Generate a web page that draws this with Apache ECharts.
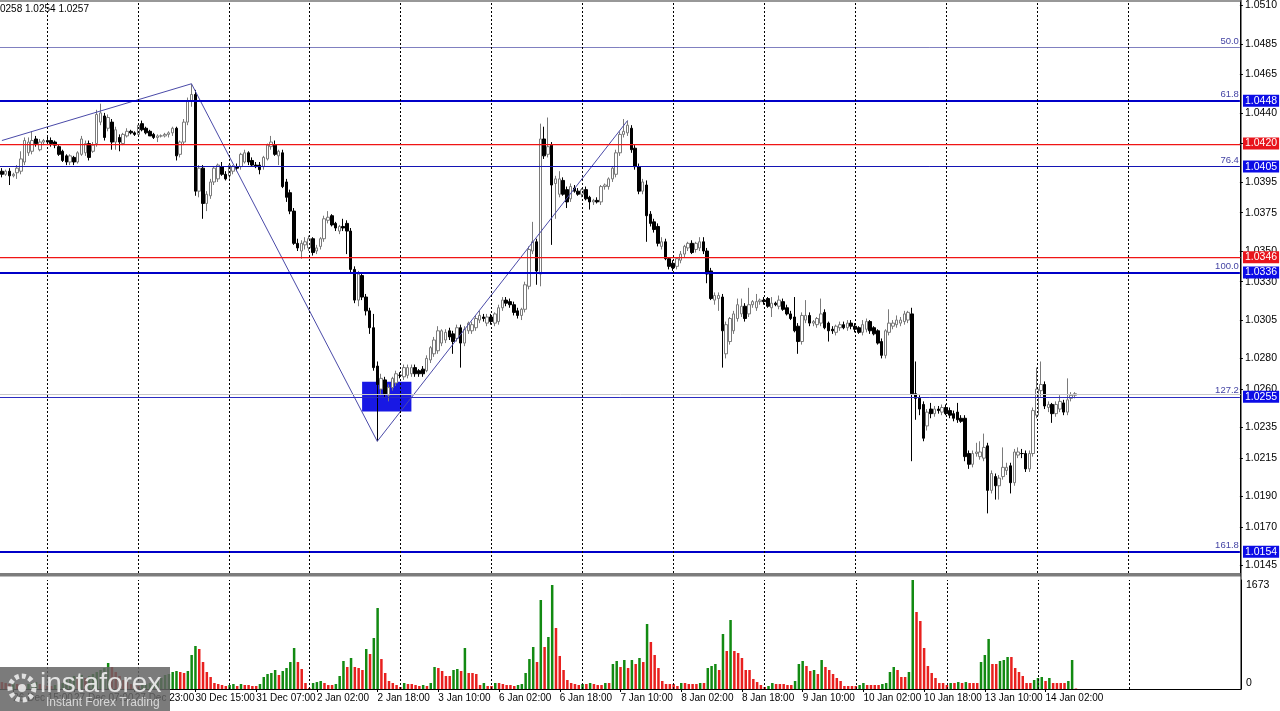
<!DOCTYPE html>
<html><head><meta charset="utf-8">
<script src="https://cdn.jsdelivr.net/npm/echarts@6/dist/echarts.min.js"></script>
<style>html,body{margin:0;padding:0;background:#fff}#c{width:1280px;height:711px}</style>
</head><body><div id="c"></div>
<script>
// ---- data ----
const sessions = [
  ['26 Dec',12,23],['27 Dec',0,23],['30 Dec',0,23],['31 Dec',0,20],['2 Jan',0,23],['3 Jan',0,23],
  ['6 Jan',0,23],['7 Jan',0,23],['8 Jan',0,23],['9 Jan',0,23],['10 Jan',0,23],['13 Jan',0,23],['14 Jan',0,10]
];
const futureBars = 43;
// [open, high, low, close]
const ohlc = [
// 26 Dec
[1.0402,1.0404,1.0398,1.0400],[1.0400,1.0403,1.0399,1.0402],[1.0402,1.0404,1.0393,1.0399],[1.0399,1.0401,1.0398,1.0400],
[1.0401,1.0406,1.0397,1.0404],[1.0402,1.0415,1.0400,1.0410],[1.0408,1.0424,1.0406,1.0422],[1.0414,1.0424,1.0412,1.0421],
[1.0415,1.0428,1.0413,1.0422],[1.0423,1.0425,1.0418,1.0420],[1.0416,1.0423,1.0415,1.0421],[1.0421,1.0423,1.0419,1.0422],
// 27 Dec
[1.0422,1.0425,1.0419,1.0421],[1.0422,1.0424,1.0418,1.0420],[1.0421,1.0422,1.0417,1.0419],[1.0418,1.0419,1.0412,1.0413],
[1.0415,1.0416,1.0408,1.0409],[1.0412,1.0413,1.0406,1.0408],[1.0408,1.0413,1.0406,1.0412],[1.0411,1.0412,1.0406,1.0408],
[1.0408,1.0415,1.0407,1.0414],[1.0413,1.0425,1.0412,1.0423],[1.0414,1.0422,1.0412,1.0420],[1.0420,1.0422,1.0409,1.0411],
[1.0415,1.0421,1.0414,1.0419],[1.0420,1.0442,1.0418,1.0439],[1.0434,1.0446,1.0432,1.0440],[1.0438,1.0440,1.0422,1.0424],
[1.0430,1.0439,1.0428,1.0437],[1.0434,1.0436,1.0416,1.0421],[1.0421,1.0431,1.0416,1.0429],[1.0424,1.0426,1.0415,1.0421],
[1.0420,1.0427,1.0419,1.0426],[1.0425,1.0430,1.0424,1.0428],[1.0428,1.0429,1.0426,1.0427],[1.0427,1.0428,1.0425,1.0426],
// 30 Dec
[1.0426,1.0433,1.0425,1.0432],[1.0433,1.0435,1.0428,1.0429],[1.0430,1.0431,1.0426,1.0427],[1.0428,1.0429,1.0425,1.0425],
[1.0426,1.0427,1.0423,1.0424],[1.0424,1.0426,1.0421,1.0425],[1.0425,1.0426,1.0424,1.0425],[1.0425,1.0427,1.0424,1.0426],
[1.0426,1.0428,1.0424,1.0427],[1.0427,1.0431,1.0425,1.0430],[1.0430,1.0431,1.0409,1.0412],[1.0413,1.0422,1.0411,1.0421],
[1.0421,1.0436,1.0419,1.0434],[1.0434,1.0450,1.0432,1.0448],[1.0448,1.0459,1.0444,1.0452],[1.0452,1.0455,1.0386,1.0389],
[1.0389,1.0406,1.0385,1.0404],[1.0404,1.0406,1.0371,1.0381],[1.0381,1.0389,1.0376,1.0387],[1.0386,1.0397,1.0384,1.0395],
[1.0395,1.0405,1.0393,1.0404],[1.0397,1.0407,1.0395,1.0406],[1.0405,1.0408,1.0399,1.0400],[1.0400,1.0402,1.0396,1.0397],
// 31 Dec
[1.0399,1.0407,1.0397,1.0406],[1.0402,1.0406,1.0400,1.0405],[1.0405,1.0407,1.0402,1.0404],[1.0405,1.0414,1.0403,1.0413],
[1.0408,1.0416,1.0407,1.0414],[1.0414,1.0415,1.0406,1.0408],[1.0409,1.0411,1.0405,1.0406],[1.0406,1.0408,1.0404,1.0405],
[1.0406,1.0408,1.0400,1.0403],[1.0405,1.0412,1.0403,1.0411],[1.0410,1.0420,1.0409,1.0419],[1.0418,1.0425,1.0416,1.0421],
[1.0419,1.0422,1.0412,1.0413],[1.0412,1.0416,1.0406,1.0415],[1.0414,1.0416,1.0391,1.0392],[1.0395,1.0397,1.0382,1.0385],
[1.0388,1.0390,1.0374,1.0376],[1.0376,1.0378,1.0354,1.0355],[1.0355,1.0358,1.0350,1.0352],[1.0350,1.0357,1.0345,1.0355],
[1.0354,1.0359,1.0351,1.0356],
// 2 Jan
[1.0352,1.0360,1.0350,1.0358],[1.0358,1.0359,1.0347,1.0349],[1.0350,1.0354,1.0348,1.0352],[1.0353,1.0359,1.0351,1.0358],
[1.0358,1.0373,1.0356,1.0371],[1.0370,1.0376,1.0368,1.0372],[1.0373,1.0374,1.0366,1.0367],[1.0368,1.0369,1.0363,1.0365],
[1.0363,1.0367,1.0361,1.0366],[1.0366,1.0371,1.0363,1.0365],[1.0368,1.0370,1.0348,1.0363],[1.0363,1.0365,1.0336,1.0338],
[1.0338,1.0340,1.0316,1.0318],[1.0318,1.0337,1.0314,1.0335],[1.0334,1.0336,1.0318,1.0320],[1.0320,1.0322,1.0308,1.0311],
[1.0311,1.0313,1.0296,1.0300],[1.0300,1.0309,1.0272,1.0274],[1.0275,1.0278,1.0226,1.0263],[1.0260,1.0270,1.0256,1.0267],
[1.0266,1.0268,1.0255,1.0257],[1.0256,1.0263,1.0252,1.0261],[1.0261,1.0268,1.0259,1.0267],[1.0264,1.0272,1.0262,1.0270],
// 3 Jan
[1.0269,1.0271,1.0267,1.0269],[1.0268,1.0276,1.0266,1.0274],[1.0269,1.0276,1.0267,1.0274],[1.0270,1.0276,1.0268,1.0274],
[1.0274,1.0276,1.0268,1.0270],[1.0272,1.0273,1.0268,1.0270],[1.0273,1.0275,1.0268,1.0270],[1.0272,1.0282,1.0271,1.0280],
[1.0279,1.0288,1.0277,1.0287],[1.0283,1.0294,1.0281,1.0292],[1.0285,1.0301,1.0283,1.0298],[1.0290,1.0299,1.0288,1.0298],
[1.0292,1.0299,1.0290,1.0297],[1.0298,1.0300,1.0292,1.0294],[1.0296,1.0298,1.0283,1.0291],[1.0293,1.0302,1.0291,1.0300],
[1.0300,1.0302,1.0274,1.0290],[1.0290,1.0301,1.0288,1.0299],[1.0298,1.0304,1.0296,1.0303],[1.0298,1.0304,1.0296,1.0302],
[1.0300,1.0308,1.0298,1.0306],[1.0305,1.0311,1.0303,1.0308],[1.0307,1.0309,1.0304,1.0306],[1.0303,1.0309,1.0301,1.0307],
// 6 Jan
[1.0307,1.0309,1.0302,1.0304],[1.0303,1.0310,1.0301,1.0309],[1.0304,1.0315,1.0302,1.0313],[1.0313,1.0320,1.0311,1.0318],
[1.0318,1.0320,1.0314,1.0316],[1.0317,1.0319,1.0313,1.0315],[1.0315,1.0317,1.0308,1.0310],[1.0311,1.0313,1.0306,1.0308],
[1.0308,1.0313,1.0305,1.0312],[1.0312,1.0330,1.0310,1.0328],[1.0327,1.0353,1.0325,1.0351],[1.0350,1.0369,1.0348,1.0356],
[1.0356,1.0358,1.0328,1.0337],[1.0335,1.0433,1.0327,1.0423],[1.0423,1.0431,1.0410,1.0412],[1.0413,1.0437,1.0411,1.0418],
[1.0419,1.0421,1.0354,1.0393],[1.0394,1.0399,1.0371,1.0397],[1.0387,1.0402,1.0385,1.0397],[1.0396,1.0398,1.0386,1.0387],
[1.0390,1.0392,1.0378,1.0382],[1.0384,1.0394,1.0382,1.0392],[1.0391,1.0393,1.0388,1.0389],[1.0389,1.0391,1.0386,1.0387],
// 7 Jan
[1.0387,1.0391,1.0385,1.0390],[1.0390,1.0392,1.0383,1.0384],[1.0385,1.0386,1.0377,1.0382],[1.0382,1.0384,1.0380,1.0383],
[1.0383,1.0385,1.0381,1.0382],[1.0382,1.0393,1.0380,1.0392],[1.0392,1.0394,1.0390,1.0393],[1.0392,1.0398,1.0390,1.0397],
[1.0397,1.0405,1.0395,1.0404],[1.0400,1.0416,1.0398,1.0414],[1.0414,1.0428,1.0412,1.0426],[1.0426,1.0436,1.0424,1.0428],
[1.0427,1.0435,1.0425,1.0432],[1.0430,1.0432,1.0414,1.0416],[1.0417,1.0419,1.0403,1.0405],[1.0405,1.0407,1.0387,1.0389],
[1.0389,1.0397,1.0387,1.0395],[1.0393,1.0396,1.0356,1.0373],[1.0374,1.0376,1.0366,1.0368],[1.0369,1.0371,1.0362,1.0364],
[1.0366,1.0368,1.0353,1.0355],[1.0353,1.0359,1.0351,1.0356],[1.0356,1.0358,1.0344,1.0345],[1.0345,1.0346,1.0338,1.0340],
// 8 Jan
[1.0342,1.0344,1.0337,1.0339],[1.0340,1.0346,1.0338,1.0345],[1.0344,1.0350,1.0342,1.0348],[1.0348,1.0354,1.0346,1.0353],
[1.0352,1.0356,1.0350,1.0355],[1.0355,1.0357,1.0348,1.0349],[1.0351,1.0356,1.0349,1.0355],[1.0352,1.0359,1.0350,1.0356],
[1.0356,1.0359,1.0348,1.0350],[1.0350,1.0352,1.0329,1.0335],[1.0337,1.0339,1.0318,1.0319],[1.0318,1.0323,1.0315,1.0321],
[1.0319,1.0323,1.0311,1.0321],[1.0320,1.0322,1.0274,1.0298],[1.0283,1.0304,1.0280,1.0302],[1.0291,1.0307,1.0289,1.0306],
[1.0298,1.0311,1.0296,1.0309],[1.0306,1.0319,1.0304,1.0315],[1.0309,1.0319,1.0307,1.0314],[1.0314,1.0316,1.0304,1.0306],
[1.0309,1.0326,1.0307,1.0315],[1.0315,1.0318,1.0313,1.0317],[1.0313,1.0322,1.0311,1.0317],[1.0317,1.0319,1.0315,1.0318],
// 9 Jan
[1.0318,1.0320,1.0315,1.0317],[1.0319,1.0320,1.0313,1.0314],[1.0313,1.0320,1.0307,1.0316],[1.0316,1.0317,1.0314,1.0315],
[1.0314,1.0321,1.0312,1.0318],[1.0317,1.0319,1.0311,1.0312],[1.0313,1.0315,1.0308,1.0309],[1.0309,1.0311,1.0305,1.0306],
[1.0307,1.0320,1.0297,1.0298],[1.0301,1.0303,1.0283,1.0291],[1.0291,1.0310,1.0289,1.0308],[1.0305,1.0318,1.0303,1.0308],
[1.0308,1.0310,1.0301,1.0303],[1.0303,1.0305,1.0301,1.0304],[1.0302,1.0307,1.0300,1.0306],[1.0303,1.0319,1.0301,1.0309],
[1.0310,1.0312,1.0299,1.0300],[1.0303,1.0304,1.0291,1.0298],[1.0299,1.0301,1.0296,1.0298],[1.0297,1.0302,1.0295,1.0301],
[1.0300,1.0304,1.0298,1.0302],[1.0302,1.0304,1.0299,1.0300],[1.0300,1.0305,1.0298,1.0303],[1.0303,1.0305,1.0299,1.0301],
// 10 Jan
[1.0301,1.0303,1.0297,1.0299],[1.0300,1.0301,1.0296,1.0297],[1.0297,1.0305,1.0295,1.0302],[1.0299,1.0306,1.0297,1.0304],
[1.0304,1.0305,1.0296,1.0298],[1.0300,1.0301,1.0295,1.0296],[1.0298,1.0299,1.0289,1.0290],[1.0291,1.0293,1.0280,1.0282],
[1.0282,1.0299,1.0280,1.0298],[1.0297,1.0312,1.0295,1.0303],[1.0301,1.0305,1.0299,1.0303],[1.0302,1.0308,1.0300,1.0305],
[1.0303,1.0307,1.0301,1.0305],[1.0304,1.0311,1.0302,1.0309],[1.0305,1.0311,1.0303,1.0310],[1.0309,1.0313,1.0213,1.0257],
[1.0257,1.0278,1.0240,1.0254],[1.0254,1.0256,1.0243,1.0247],[1.0250,1.0252,1.0226,1.0228],[1.0236,1.0247,1.0233,1.0245],
[1.0247,1.0251,1.0241,1.0244],[1.0244,1.0249,1.0242,1.0247],[1.0247,1.0249,1.0244,1.0246],[1.0245,1.0250,1.0243,1.0248],
// 13 Jan
[1.0248,1.0250,1.0243,1.0244],[1.0246,1.0248,1.0241,1.0243],[1.0244,1.0246,1.0239,1.0241],[1.0245,1.0251,1.0238,1.0240],
[1.0241,1.0243,1.0238,1.0239],[1.0241,1.0243,1.0213,1.0216],[1.0218,1.0220,1.0208,1.0211],[1.0211,1.0220,1.0209,1.0218],
[1.0218,1.0225,1.0216,1.0219],[1.0216,1.0226,1.0214,1.0219],[1.0215,1.0231,1.0213,1.0222],[1.0223,1.0225,1.0179,1.0194],
[1.0194,1.0207,1.0192,1.0205],[1.0203,1.0205,1.0188,1.0197],[1.0197,1.0204,1.0188,1.0202],[1.0203,1.0222,1.0201,1.0209],
[1.0207,1.0212,1.0204,1.0209],[1.0210,1.0212,1.0192,1.0199],[1.0199,1.0221,1.0197,1.0219],[1.0217,1.0222,1.0215,1.0219],
[1.0218,1.0221,1.0215,1.0218],[1.0218,1.0220,1.0206,1.0208],[1.0208,1.0220,1.0206,1.0218],[1.0218,1.0248,1.0216,1.0246],
// 14 Jan
[1.0243,1.0274,1.0241,1.0260],[1.0259,1.0278,1.0255,1.0263],[1.0263,1.0265,1.0247,1.0249],[1.0248,1.0252,1.0245,1.0250],
[1.0250,1.0251,1.0238,1.0244],[1.0244,1.0252,1.0242,1.0250],[1.0247,1.0256,1.0245,1.0252],[1.0251,1.0253,1.0243,1.0245],
[1.0245,1.0267,1.0243,1.0253],[1.0254,1.0258,1.0252,1.0256],[1.0256,1.0258,1.0254,1.0257]
];
const volumes = [
107,92,77,92,77,77,61,77,92,107,77,61,
46,46,61,77,92,138,169,200,184,215,169,200,230,261,292,322,399,338,261,200,138,107,77,61,
46,61,77,92,107,138,169,215,230,261,276,261,246,276,522,660,614,414,261,184,92,77,61,46,
61,77,46,77,61,61,46,46,77,184,230,246,292,215,276,322,414,629,414,307,92,
15,92,107,123,92,61,61,77,200,430,338,476,338,322,292,614,537,783,1243,460,246,123,92,61,
31,92,77,77,61,46,61,46,92,338,322,276,200,200,292,307,276,629,246,246,230,61,92,46,
46,92,92,77,61,61,46,61,77,246,460,645,414,1366,645,798,1596,936,507,292,138,92,77,61,
77,77,92,77,61,61,92,92,384,430,338,445,322,445,384,476,414,998,721,522,322,123,77,77,
77,46,92,92,77,77,77,92,92,322,353,384,292,844,583,1059,583,553,476,292,292,154,107,61,
31,46,92,77,77,77,61,61,123,384,430,353,276,292,230,445,338,292,230,169,123,46,46,46,
46,61,92,61,61,61,61,77,92,261,338,292,184,184,261,1673,1182,1044,629,353,246,169,92,92,
61,92,92,107,92,107,92,92,92,414,522,768,384,384,430,445,491,491,322,261,200,92,92,138,
169,184,123,169,92,92,92,92,123,445,8
];
const priceTicks = [1.0510,1.0485,1.0465,1.0440,1.0420,1.0395,1.0375,1.0350,1.0330,1.0305,1.0280,1.0260,1.0235,1.0215,1.0190,1.0170,1.0145];
const volumeTicks = [0,1673];
const fibLabels = ['50.0','61.8','76.4','100.0','127.2','161.8'];
const fibPrices = [1.0483,1.0448,1.0405,1.0336,1.0255,1.0154];
const fibBoxed = [false,true,true,true,true,true];
const redLevels = [1.0420,1.0346];
const bidPrice = 1.0257;
const zigzag = [[0,1.0422],[50,1.0459],[99,1.0226],[165,1.0435]];
const zone = [[95,1.02648],[108,1.02454]];
const headerText = '0258 1.0254 1.0257';
const logoText = 'instaforex';
const logoSub = 'Instant Forex Trading';

// ---- build ----
const pad = h => (h < 10 ? '0' : '') + h;
const categories = [], daySeps = [];
sessions.forEach(([d, h0, h1]) => {
  if (h0 === 0) daySeps.push(categories.length);
  for (let h = h0; h <= h1; h++) categories.push(d + ' ' + pad(h) + ':00');
});
const nBars = categories.length;
daySeps.push(daySeps[daySeps.length - 1] + 24);
for (let k = 0; k < futureBars; k++) categories.push('');

const candleData = ohlc.map(r => [r[0], r[3], r[2], r[1]]);
const GREEN = '#128a12', RED = '#e8201e';
const volData = volumes.map((v, i) => ({
  value: v,
  itemStyle: { color: (i > 0 && v > volumes[i - 1]) ? GREEN : RED }
}));
const labelShown = i => i < nBars && (i - 3) % 16 === 0;
const FONT = 'Liberation Sans';
const sepLine = { type: [2, 2], color: '#000', width: 1 };

const fibColors = ['#8080c0', '#0000c8', '#1414b4', '#0000c8', '#2c2cc0', '#0000c8'];
const fibWidths = [1, 2, 1, 2, 1, 2];

const levelLines = [];
fibPrices.forEach((p, k) => {
  levelLines.push({
    yAxis: p,
    lineStyle: { color: fibColors[k], width: fibWidths[k], type: 'solid' },
    label: { show: true, position: 'insideEndTop', formatter: fibLabels[k], color: '#4444a4',
             fontSize: 9.5, fontFamily: FONT, distance: [1, 1] }
  });
});
daySeps.forEach(i => levelLines.push({ xAxis: i, lineStyle: sepLine, label: { show: false } }));

const boxes = [];
fibPrices.forEach((p, k) => { if (fibBoxed[k]) boxes.push({ p: p, c: '#0c0ce6' }); });
redLevels.forEach(p => boxes.push({ p: p, c: '#e8141c' }));

const staticGraphics = [
  { type: 'rect', shape: { x: 0, y: 573, width: 1241, height: 3.5 }, style: { fill: '#7c7c7c' }, z: 50 },
  { type: 'rect', shape: { x: 0, y: 0.5, width: 1241, height: 1 }, style: { fill: '#333' }, z: 50 },
  { type: 'rect', shape: { x: 1240.5, y: 0, width: 1, height: 689 }, style: { fill: '#000' }, z: 50 },
  { type: 'text', x: 0, y: 4, style: { text: headerText, font: '10px "Liberation Sans"', fill: '#000' }, z: 50 },
  { type: 'rect', z: 100, shape: { x: 0, y: 667, width: 170, height: 44 }, style: { fill: 'rgba(100,100,100,0.85)' } },
  { type: 'circle', z: 101, shape: { cx: 22, cy: 688, r: 12 },
    style: { fill: 'none', stroke: 'rgba(235,235,235,0.9)', lineWidth: 5, lineDash: [4, 3] } },
  { type: 'circle', z: 101, shape: { cx: 22, cy: 688, r: 4 }, style: { fill: 'rgba(235,235,235,0.9)' } },
  { type: 'text', z: 101, x: 40, y: 670, style: { text: logoText, font: '28px "Liberation Sans"', fill: 'rgba(240,240,240,0.9)' } },
  { type: 'text', z: 101, x: 46, y: 697, style: { text: logoSub, font: '12px "Liberation Sans"', fill: 'rgba(230,230,230,0.85)' } }
];

const chart = echarts.init(document.getElementById('c'), null, { renderer: 'canvas' });
chart.setOption({
  animation: false,
  backgroundColor: '#fff',
  grid: [
    { left: 0, top: 0, width: 1241, height: 573 },
    { left: 0, top: 580, width: 1241, height: 109 }
  ],
  xAxis: [
    { type: 'category', gridIndex: 0, data: categories, boundaryGap: true, show: false },
    { type: 'category', gridIndex: 1, data: categories, boundaryGap: true,
      axisLine: { lineStyle: { color: '#000', width: 1 } },
      axisTick: { show: true, alignWithLabel: true, interval: labelShown, length: 3, lineStyle: { color: '#000' } },
      axisLabel: { interval: labelShown, align: 'left', margin: 4, color: '#000', fontSize: 10, fontFamily: FONT },
      splitLine: { show: false } }
  ],
  yAxis: [
    { type: 'value', gridIndex: 0, position: 'right', min: 1.014015, max: 1.051227, scale: true,
      axisLine: { show: true, lineStyle: { color: '#000' } },
      axisTick: { show: true, length: 3, customValues: priceTicks, lineStyle: { color: '#000' } },
      axisLabel: { customValues: priceTicks, formatter: v => v.toFixed(4), color: '#000', fontSize: 10.5,
                   fontFamily: FONT, margin: 5 },
      splitLine: { show: false } },
    { type: 'value', gridIndex: 1, position: 'right', min: 0, max: 1673,
      axisLine: { show: true, lineStyle: { color: '#000' } },
      axisTick: { show: false },
      axisLabel: { customValues: volumeTicks, formatter: v => String(v), color: '#000', fontSize: 10.5, fontFamily: FONT, margin: 5,
                   verticalAlignMinLabel: 'bottom', verticalAlignMaxLabel: 'top' },
      splitLine: { show: false } }
  ],
  series: [
    { type: 'candlestick', xAxisIndex: 0, yAxisIndex: 0, data: candleData, barWidth: 3, z: 2, clip: false,
      itemStyle: { color: '#ffffff', color0: '#000000', borderColor: '#7a7a7a', borderColor0: '#000000', borderWidth: 1 },
      markLine: { silent: true, symbol: 'none', animation: false, precision: 6, data: levelLines },
      markArea: { silent: true, itemStyle: { color: '#1818e4', opacity: 1 },
        data: [[{ xAxis: zone[0][0], yAxis: zone[0][1] }, { xAxis: zone[1][0], yAxis: zone[1][1] }]] }
    },
    { type: 'line', xAxisIndex: 0, yAxisIndex: 0, data: zigzag, symbol: 'none', z: 4,
      lineStyle: { color: '#4a4aa8', width: 1 } },
    { type: 'bar', xAxisIndex: 1, yAxisIndex: 1, data: volData, barWidth: 2.5,
      markLine: { silent: true, symbol: 'none', animation: false,
        data: daySeps.map(i => ({ xAxis: i, lineStyle: sepLine, label: { show: false } })) } }
  ],
  graphic: staticGraphics
});

// horizontal red levels, bid line and price boxes, placed through the y axis scale
const toY = p => Math.round(chart.convertToPixel({ yAxisIndex: 0 }, p)) + 0.5;
const lineGraphics = [{
  type: 'line', z: 39, shape: { x1: 0, y1: toY(bidPrice), x2: 1241, y2: toY(bidPrice) },
  style: { stroke: '#c8c8c8', lineWidth: 1 }
}];
redLevels.forEach(p => lineGraphics.push({
  type: 'rect', z: 41, shape: { x: 0, y: Math.round(chart.convertToPixel({ yAxisIndex: 0 }, p)), width: 1241, height: 1.2 },
  style: { fill: '#f01414' }
}));
const boxGraphics = boxes.map(b => ({
  type: 'text', z: 90,
  x: 1243, y: chart.convertToPixel({ yAxisIndex: 0 }, b.p),
  style: { text: b.p.toFixed(4), font: '10.5px "Liberation Sans"', fill: '#fff', backgroundColor: b.c,
           padding: [1, 2, 0, 2], verticalAlign: 'middle', align: 'left' }
}));
chart.setOption({ graphic: staticGraphics.concat(lineGraphics, boxGraphics) });
</script>
</body></html>
